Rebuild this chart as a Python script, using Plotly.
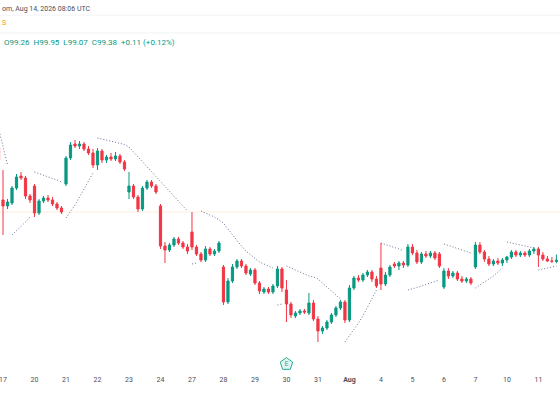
import plotly.graph_objects as go

# session labels on the time axis, 7 hourly bars per session
day_labels = ['17', '20', '21', '22', '23', '24', '27', '28', '29', '30', '31',
              'Aug', '4', '5', '6', '7', '10', '11']
bars_per_day = 7
earnings_day = '30'

# first value of each list is the last bar of the 16th (cut by the left edge)
opens = [
    110.6,
    105.4, 104.8, 105.1, 106.6, 107.8, 107.6, 105.8,  # 17
    106.8, 104.1, 105.3, 105.6, 105.4, 105.0, 104.6,  # 20
    107.0, 109.6, 111.0, 110.8, 111.0, 110.5, 110.1,  # 21
    108.9, 110.3, 109.4, 109.7, 109.5, 109.8, 109.2,  # 22
    106.2, 106.8, 105.7, 104.5, 106.6, 107.2, 106.8,  # 23
    104.8, 100.8, 100.4, 100.9, 101.5, 101.1, 100.7,  # 24
    102.2, 100.7, 100.0, 99.4, 100.5, 100.0, 100.3,   # 27
    98.7, 95.2, 97.3, 98.7, 99.3, 98.8, 98.0,         # 28
    98.4, 97.1, 96.2, 96.5, 96.2, 96.8, 98.5,         # 29
    96.4, 95.0, 93.8, 94.1, 94.3, 94.1, 95.1,         # 30
    93.5, 92.3, 92.6, 93.2, 93.9, 94.6, 95.2,         # 31
    93.4, 96.6, 97.6, 97.4, 97.9, 98.2, 97.5,         # Aug 3
    98.6, 97.0, 97.9, 99.0, 98.8, 99.1, 98.9,         # 4
    100.7, 100.1, 99.2, 100.0, 99.8, 100.1, 100.0,    # 5
    96.7, 98.3, 97.8, 98.1, 97.5, 97.3, 97.5,         # 6
    98.7, 100.9, 100.2, 99.5, 99.0, 99.3, 99.1,       # 7
    99.4, 99.7, 100.2, 99.9, 100.1, 99.9, 100.3,      # 10
    100.5, 99.9, 99.5, 99.3, 99.26,                   # 11
]
highs = [
    110.9,
    108.4, 105.5, 106.8, 108.0, 108.2, 107.8, 106.0,
    107.0, 105.5, 105.8, 105.9, 105.7, 105.2, 104.8,
    109.8, 111.2, 111.4, 111.3, 111.2, 110.8, 110.5,
    110.6, 110.5, 109.9, 110.1, 110.2, 110.0, 109.4,
    108.2, 107.0, 105.9, 106.8, 107.4, 107.4, 107.0,
    105.0, 101.2, 101.1, 101.7, 101.7, 101.3, 101.0,
    104.2, 100.9, 100.2, 100.8, 100.7, 100.5, 101.3,
    98.9, 97.6, 99.0, 99.5, 99.5, 99.0, 98.6,
    98.6, 97.3, 96.7, 96.7, 97.0, 98.8, 98.7,
    97.4, 95.2, 94.3, 94.5, 94.5, 96.1, 95.4,
    93.8, 92.8, 93.4, 94.1, 94.8, 95.4, 95.4,
    96.9, 97.8, 97.9, 98.1, 98.4, 98.4, 97.8,
    101.1, 98.2, 98.9, 99.2, 99.3, 99.3, 101.0,
    101.0, 100.4, 100.2, 100.3, 100.3, 100.3, 100.2,
    98.6, 98.6, 98.3, 98.3, 97.8, 97.7, 97.7,
    101.2, 101.2, 100.4, 99.8, 99.5, 99.6, 99.6,
    99.8, 100.4, 100.4, 100.3, 100.3, 100.5, 100.7,
    100.7, 100.2, 99.8, 99.7, 99.95,
]
lows = [
    108.9,
    101.9, 104.5, 104.9, 106.4, 107.4, 105.5, 105.1,
    103.7, 103.9, 105.1, 105.2, 104.8, 104.4, 104.0,
    106.8, 109.4, 110.6, 110.5, 110.3, 109.9, 108.6,
    108.4, 109.1, 109.1, 109.3, 109.3, 109.0, 108.3,
    105.5, 105.5, 104.2, 104.3, 106.4, 106.6, 106.0,
    100.5, 99.1, 100.2, 100.7, 100.9, 100.5, 100.0,
    100.4, 99.8, 99.2, 99.2, 99.8, 99.8, 100.1,
    94.9, 95.0, 97.1, 98.5, 98.6, 97.9, 97.8,
    96.9, 96.0, 96.0, 96.0, 96.0, 96.6, 96.2,
    93.2, 93.6, 93.6, 93.9, 94.0, 93.9, 93.3,
    91.2, 92.0, 92.4, 93.0, 93.7, 94.4, 93.1,
    93.2, 96.4, 97.2, 97.2, 97.7, 97.2, 96.6,
    96.4, 96.8, 97.7, 98.6, 98.4, 98.6, 98.7,
    99.9, 99.0, 99.0, 99.6, 99.6, 99.4, 98.6,
    96.5, 97.5, 97.6, 97.3, 97.1, 97.1, 96.9,
    98.5, 100.0, 99.2, 98.8, 98.8, 98.9, 98.8,
    99.1, 99.5, 99.7, 99.7, 99.7, 99.7, 100.0,
    98.7, 99.3, 99.2, 99.1, 99.07,
]
closes = [
    109.4,
    104.8, 105.2, 106.6, 107.7, 107.6, 105.8, 105.4,
    104.1, 105.3, 105.6, 105.4, 105.0, 104.6, 104.2,
    109.6, 110.9, 110.8, 111.0, 110.5, 110.1, 108.9,
    110.3, 109.4, 109.7, 109.5, 109.8, 109.2, 108.5,
    106.8, 105.7, 104.5, 106.6, 107.2, 106.8, 106.2,
    100.8, 100.4, 100.9, 101.5, 101.1, 100.7, 100.3,
    100.7, 100.0, 99.4, 100.5, 100.0, 100.3, 101.1,
    95.2, 97.3, 98.7, 99.3, 98.8, 98.1, 98.4,
    97.1, 96.3, 96.5, 96.2, 96.8, 98.5, 96.6,
    95.0, 93.9, 94.1, 94.3, 94.2, 95.1, 93.5,
    92.3, 92.6, 93.2, 93.9, 94.6, 95.2, 93.4,
    96.6, 97.6, 97.4, 97.9, 98.2, 97.5, 96.8,
    97.0, 97.9, 98.7, 98.8, 99.1, 98.9, 100.7,
    100.1, 99.2, 100.0, 99.8, 100.1, 99.6, 98.8,
    98.3, 97.8, 98.1, 97.5, 97.3, 97.5, 97.1,
    100.9, 100.2, 99.5, 99.0, 99.3, 99.1, 99.4,
    99.7, 100.2, 99.9, 100.1, 99.9, 100.3, 100.5,
    99.9, 99.5, 99.3, 99.27, 99.38,
]
# parabolic SAR, one value per bar
sar = [
    112.6,
    110.6, 108.9, 101.9, 102.3, 102.7, 103.2, 103.7,
    108.2, 108.05, 107.9, 107.75, 107.6, 107.4, 107.2,
    103.6, 104.2, 104.9, 105.7, 106.5, 107.3, 108.1,
    111.6, 111.5, 111.4, 111.3, 111.2, 111.1, 110.95,
    110.7, 110.2, 109.7, 109.2, 108.7, 108.2, 107.7,
    107.3, 106.8, 106.3, 105.8, 105.3, 104.8, 104.3,
    99.0, 99.1, 104.3, 104.1, 103.9, 103.7, 103.4,
    103.1, 102.5, 101.9, 101.3, 100.8, 100.3, 99.9,
    99.5, 99.2, 99.0, 98.8, 98.6, 94.9, 95.0,
    98.8, 98.6, 98.4, 98.2, 98.0, 97.8, 97.7,
    97.5, 97.1, 96.7, 96.3, 95.9, 95.5, 91.2,
    91.8, 92.4, 93.1, 93.8, 94.7, 95.6, 96.4,
    101.1, 100.95, 100.8, 100.65, 100.5, 100.35, 96.4,
    96.5, 96.65, 96.8, 96.95, 97.1, 97.25, 97.4,
    101.0, 100.85, 100.7, 100.55, 100.4, 100.25, 100.1,
    96.6, 96.9, 97.2, 97.5, 97.8, 98.2, 98.6,
    101.2, 101.1, 101.0, 100.9, 100.8, 100.7, 100.6,
    98.4, 98.5, 98.6, 98.7, 98.8,
]
ref_level = 104.2

header_time = 'om, Aug 14, 2026 08:06 UTC'
header_ohlc = 'O99.26  H99.95  L99.07  C99.38  +0.11 (+0.12%)'

UP = '#089981'
DOWN = '#F23645'
FONT = 'Roboto'

x = [i - 1 for i in range(len(closes))]
tick_vals = [bars_per_day * k for k in range(len(day_labels))]
tick_text = ['<b>%s</b>' % d if d == 'Aug' else d for d in day_labels]

# break the SAR dots where it flips from one side of price to the other
sar_x, sar_y = [], []
prev_side = None
for xi, s, c in zip(x, sar, closes):
    side = s > c
    if prev_side is not None and side != prev_side:
        sar_x.append(None)
        sar_y.append(None)
    sar_x.append(xi)
    sar_y.append(s)
    prev_side = side

fig = go.Figure()
fig.add_trace(go.Candlestick(
    x=x, open=opens, high=highs, low=lows, close=closes,
    increasing=dict(line=dict(color=UP, width=1), fillcolor=UP),
    decreasing=dict(line=dict(color=DOWN, width=1), fillcolor=DOWN),
    showlegend=False, hoverinfo='skip',
))
fig.add_trace(go.Scatter(
    x=sar_x, y=sar_y, mode='lines',
    line=dict(color='#66739a', width=1, dash='1px,2px'),
    showlegend=False, hoverinfo='skip',
))

e_idx = tick_vals[day_labels.index(earnings_day)]
fig.add_trace(go.Scatter(
    x=[e_idx], y=[0.016], yaxis='y2', mode='markers+text',
    marker=dict(symbol='pentagon', size=13, color='#e3f5f1',
                line=dict(color='#22ab94', width=1)),
    text=['E'], textposition='middle center',
    textfont=dict(family=FONT, size=7, color='#22ab94'),
    cliponaxis=False, showlegend=False, hoverinfo='skip',
))

fig.add_hline(y=ref_level, line=dict(color='rgba(255,152,0,0.14)', width=1))

for yy in (0.959, 0.911):
    fig.add_shape(type='line', xref='paper', yref='paper', x0=0, x1=1, y0=yy, y1=yy,
                  line=dict(color='#f2f3f6', width=1))

fig.add_annotation(x=0, y=0.976, xref='paper', yref='paper', xanchor='left',
                   yanchor='middle', showarrow=False, text=header_time,
                   font=dict(family=FONT, size=7, color='#4a4d57'))
fig.add_annotation(x=0, y=0.938, xref='paper', yref='paper', xanchor='left',
                   yanchor='middle', showarrow=False, text='S',
                   font=dict(family=FONT, size=7, color='#ff9800'))
fig.add_annotation(x=0.004, y=0.884, xref='paper', yref='paper', xanchor='left',
                   yanchor='middle', showarrow=False, text=header_ohlc,
                   font=dict(family=FONT, size=8, color=UP))

fig.update_layout(
    width=560, height=420,
    margin=dict(l=0, r=0, t=0, b=50),
    paper_bgcolor='white', plot_bgcolor='white',
    xaxis=dict(range=[-0.67, 123.8], tickvals=tick_vals, ticktext=tick_text,
               showgrid=False, zeroline=False, showline=False, ticks='',
               rangeslider_visible=False, ticklabelstandoff=4,
               ticklabeloverflow='allow',
               tickfont=dict(family=FONT, size=7, color='#4a4d57')),
    yaxis=dict(range=[88.4, 125.4], visible=False, fixedrange=True),
    yaxis2=dict(range=[0, 1], overlaying='y', visible=False),
)

fig.write_html('out.html', config={'displayModeBar': False},
               post_script="document.body.style.margin='0';")
